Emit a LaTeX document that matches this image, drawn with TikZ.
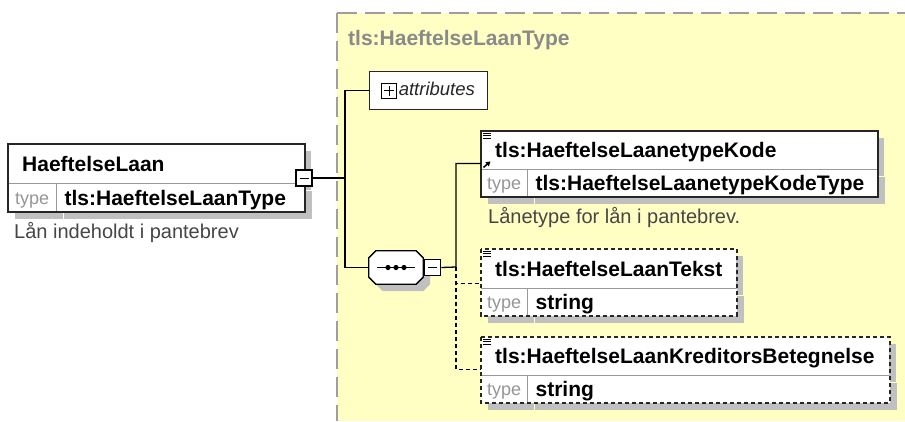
\documentclass[tikz,border=0pt]{standalone}
\usepackage{fontspec}
\setmainfont{Liberation Sans}
\usetikzlibrary{arrows.meta, positioning, shadows}

\definecolor{typebg}{RGB}{255,255,196}
\definecolor{typeline}{RGB}{158,158,158}
\definecolor{shadowgray}{RGB}{192,192,192}
\definecolor{titlegray}{RGB}{138,138,138}
\definecolor{lblgray}{RGB}{150,150,150}
\definecolor{docgray}{RGB}{70,70,70}

\newcommand{\elnamefont}{\fontsize{21}{25}\selectfont\bfseries}
% outline of the sequence compositor, corners cut by 7pt
\newcommand{\seqoutline}{([xshift=7pt]seq.north west) -- ([xshift=-7pt]seq.north east)
    -- ([yshift=-7pt]seq.north east) -- ([yshift=7pt]seq.south east)
    -- ([xshift=-7pt]seq.south east) -- ([xshift=7pt]seq.south west)
    -- ([yshift=7pt]seq.south west) -- ([yshift=-7pt]seq.north west) -- cycle}

\begin{document}
\begin{tikzpicture}[
    x=1pt, y=-1pt,
    shadowed/.style={drop shadow={shadow xshift=7pt, shadow yshift=-7pt, fill=shadowgray, opacity=1}},
    elhead/.style={shadowed, fill=white, anchor=north west, inner xsep=14pt, inner ysep=0pt,
        minimum height=38pt, text height=15pt, text depth=0pt, align=left, font=\elnamefont},
    typelbl/.style={shadowed, fill=white, anchor=north west, inner sep=0pt, minimum width=46pt,
        minimum height=27pt, text height=13pt, text depth=0pt, text=lblgray, font=\fontsize{18}{21}\selectfont},
    typename/.style={shadowed, fill=white, anchor=north west, inner xsep=8pt, inner ysep=0pt,
        minimum height=27pt, text height=15pt, text depth=0pt, align=left, font=\elnamefont},
    divider/.style={draw=gray!80, line width=0.8pt},
    elframe/.style={draw=black!85, line width=1.4pt},
    optframe/.style={elframe, dash pattern=on 4pt off 3pt},
    minusbox/.style={draw=black, fill=white, line width=1.2pt, minimum size=16pt, inner sep=0pt,
        path picture={\draw[line width=1pt] ([xshift=-4.5pt]path picture bounding box.center)
            -- ([xshift=4.5pt]path picture bounding box.center);}},
    plusbox/.style={draw=black, fill=white, line width=1.1pt, minimum size=15pt, inner sep=0pt,
        path picture={\draw[line width=1pt] ([xshift=-5pt]path picture bounding box.center)
            -- ([xshift=5pt]path picture bounding box.center)
            ([yshift=-5pt]path picture bounding box.center)
            -- ([yshift=5pt]path picture bounding box.center);}},
    seqbox/.style={minimum width=54pt, minimum height=33pt, inner sep=0pt},
    docnote/.style={anchor=west, inner sep=0pt, text height=14pt, text depth=4pt, text=docgray,
        font=\fontsize{20}{24}\selectfont},
    conn/.style={draw=black, line width=1.3pt},
    optconn/.style={conn, dash pattern=on 4pt off 3pt}
]
    \useasboundingbox (0,0) rectangle (905,421);
    \fill[white] (0,0) rectangle (905,421);

    % complex type panel, open to the right and below
    \fill[typebg] (337,13) rectangle (905,421);
    \draw[draw=typeline, line width=1.5pt, dash pattern=on 20pt off 8pt] (337,13) -- (905,13);
    \draw[draw=typeline, line width=1.5pt, dash pattern=on 20pt off 8pt] (337,13) -- (337,421);
    \node[anchor=west, inner sep=0pt, text height=15pt, text depth=0pt, text=titlegray, font=\elnamefont]
        (ttitle) at (348,37.5) {tls:HaeftelseLaanType};

    % root element
    \node[elhead, text width=268pt, minimum height=39pt] (lan) at (8,144) {HaeftelseLaan};
    \node[typelbl, minimum width=48pt, minimum height=28pt] (lanl) at (lan.south west) {type};
    \node[typename, text width=232pt, minimum height=28pt] (lann) at (lanl.north east) {tls:HaeftelseLaanType};
    \draw[divider] (lan.south west) -- (lan.south east);
    \draw[divider] (lanl.north east) -- (lanl.south east);
    \draw[elframe] (lan.north west) rectangle (lann.south east);
    \node[minusbox] (lanm) at (304,178) {};
    \node[docnote] (landoc) at (14,233) {Lån indeholdt i pantebrev};

    % attributes group
    \node[draw=black!85, fill=white, line width=1.4pt, anchor=north west, minimum width=118pt,
        minimum height=38pt, inner sep=0pt] (attr) at (369,71) {};
    \node[plusbox, right=12pt of attr.west] (attrplus) {};
    \node[right=1.5pt of attrplus, inner sep=0pt, text height=13pt, text depth=4pt,
        font=\fontsize{18.5}{22}\selectfont\itshape, text=black!85] (attrlbl) {attributes};

    % sequence compositor
    \node[seqbox] (seq) at (396,267.5) {};
    \fill[shadowgray, transform canvas={shift={(7pt,-7pt)}}] \seqoutline;
    \draw[fill=white, line width=1.3pt] \seqoutline;
    \draw[line width=1.2pt] ([xshift=-19pt]seq.center) -- ([xshift=19pt]seq.center);
    \foreach \dx in {-8,0,8}
        \fill ([xshift=\dx pt]seq.center) circle (2.6pt);
    \node[minusbox, right=1pt of seq] (seqm) {};

    % child: tls:HaeftelseLaanetypeKode (mandatory, reference)
    \node[elhead, text width=368pt] (kode) at (481,131) {tls:HaeftelseLaanetypeKode};
    \node[typelbl] (kodel) at (kode.south west) {type};
    \node[typename, text width=334pt] (koden) at (kodel.north east) {tls:HaeftelseLaanetypeKodeType};
    \draw[divider] (kode.south west) -- (kode.south east);
    \draw[divider] (kodel.north east) -- (kodel.south east);
    \draw[elframe] (kode.north west) rectangle (koden.south east);
    \draw[-{Triangle[length=4.5pt, width=5pt]}, line width=1.5pt]
        ([shift={(2.5pt,2pt)}]kode.south west) -- ++(7,-6);
    \node[docnote] (kodedoc) at (488,218) {Lånetype for lån i pantebrev.};

    % child: tls:HaeftelseLaanTekst (optional)
    \node[elhead, text width=227pt, minimum height=39pt] (tekst) at (481,249) {tls:HaeftelseLaanTekst};
    \node[typelbl] (tekstl) at (tekst.south west) {type};
    \node[typename, text width=193pt] (tekstn) at (tekstl.north east) {string};
    \draw[divider] (tekst.south west) -- (tekst.south east);
    \draw[divider] (tekstl.north east) -- (tekstl.south east);
    \draw[optframe] (tekst.north west) rectangle (tekstn.south east);

    % child: tls:HaeftelseLaanKreditorsBetegnelse (optional)
    \node[elhead, text width=380pt] (kred) at (481,337) {tls:HaeftelseLaanKreditorsBetegnelse};
    \node[typelbl] (kredl) at (kred.south west) {type};
    \node[typename, text width=346pt] (kredn) at (kredl.north east) {string};
    \draw[divider] (kred.south west) -- (kred.south east);
    \draw[divider] (kredl.north east) -- (kredl.south east);
    \draw[optframe] (kred.north west) rectangle (kredn.south east);

    % documentation marks on the children
    \foreach \el in {kode, tekst, kred}
        \foreach \dy in {2, 4.5, 7}
            \draw[line width=0.9pt] ([shift={(2pt,-\dy pt)}]\el.north west) -- ++(8,0);

    % connectors
    \coordinate (trunk) at (345,178);
    \coordinate (branch) at (456,267);
    \draw[conn] (lanm.east) -- (trunk);
    \draw[conn] (attr.west) -| (trunk) |- (seq.west);
    \draw[conn] (seqm.east) -- (branch) |- ([yshift=6pt]kode.south west);
    \draw[optconn] (branch) |- ([yshift=5pt]tekst.south west);
    \draw[optconn] (branch) |- ([yshift=6pt]kred.south west);
\end{tikzpicture}
\end{document}
